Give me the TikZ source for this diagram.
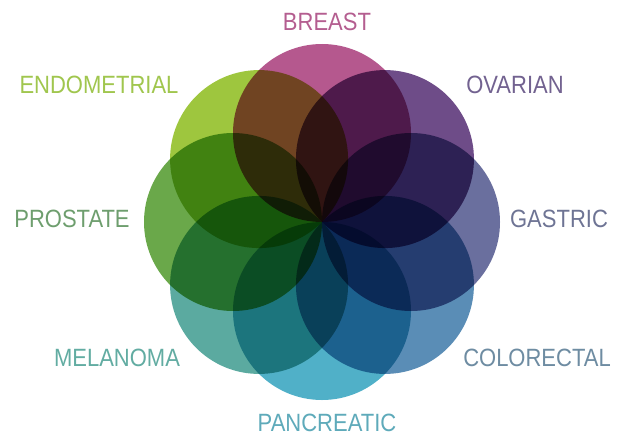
\documentclass[tikz,border=0pt]{standalone}
\usepackage{fontspec}
\setmainfont{Liberation Sans}[FakeStretch=0.88]
\usetikzlibrary{calc}
\definecolor{cBreast}{HTML}{B5588E}
\definecolor{cOvarian}{HTML}{6E4C88}
\definecolor{cGastric}{HTML}{6A6F9E}
\definecolor{cColorectal}{HTML}{5A8DB6}
\definecolor{cPancreatic}{HTML}{50B0C8}
\definecolor{cMelanoma}{HTML}{5BAAA0}
\definecolor{cProstate}{HTML}{6AA84A}
\definecolor{cEndometrial}{HTML}{9EC63E}
\definecolor{tBreast}{HTML}{B45E90}
\definecolor{tOvarian}{HTML}{726290}
\definecolor{tGastric}{HTML}{6E7494}
\definecolor{tColorectal}{HTML}{6E8CA2}
\definecolor{tPancreatic}{HTML}{5EAABA}
\definecolor{tMelanoma}{HTML}{62ACA2}
\definecolor{tProstate}{HTML}{6E9E6E}
\definecolor{tEndometrial}{HTML}{A0C64E}
\tikzset{
  blob/.style={circle, inner sep=0pt, minimum size=178pt, blend mode=multiply},
  lbl/.style={inner sep=0pt, font=\fontsize{25}{25}\selectfont}
}
\begin{document}
\begin{tikzpicture}[x=1pt,y=-1pt]
\useasboundingbox (0,0) rectangle (617,436);
\coordinate (c) at (322,222);
\node[blob, fill=cBreast] (breast) at ($(c)+(0,-89)$) {};
\node[blob, fill=cOvarian] (ovarian) at ($(c)+(62.93,-62.93)$) {};
\node[blob, fill=cGastric] (gastric) at ($(c)+(89,0)$) {};
\node[blob, fill=cColorectal] (colorectal) at ($(c)+(62.93,62.93)$) {};
\node[blob, fill=cPancreatic] (pancreatic) at ($(c)+(0,89)$) {};
\node[blob, fill=cMelanoma] (melanoma) at ($(c)+(-62.93,62.93)$) {};
\node[blob, fill=cProstate] (prostate) at ($(c)+(-89,0)$) {};
\node[blob, fill=cEndometrial] (endometrial) at ($(c)+(-62.93,-62.93)$) {};
\node[lbl, text=tBreast] (lbreast) at (327,22) {BREAST};
\node[lbl, text=tEndometrial] (lendometrial) at (99,85) {ENDOMETRIAL};
\node[lbl, text=tOvarian] (lovarian) at (515,85) {OVARIAN};
\node[lbl, text=tProstate] (lprostate) at (72,219) {PROSTATE};
\node[lbl, text=tGastric] (lgastric) at (559,219) {GASTRIC};
\node[lbl, text=tMelanoma] (lmelanoma) at (117,358) {MELANOMA};
\node[lbl, text=tColorectal] (lcolorectal) at (537,358) {COLORECTAL};
\node[lbl, text=tPancreatic] (lpancreatic) at (327,423) {PANCREATIC};
\end{tikzpicture}
\end{document}
